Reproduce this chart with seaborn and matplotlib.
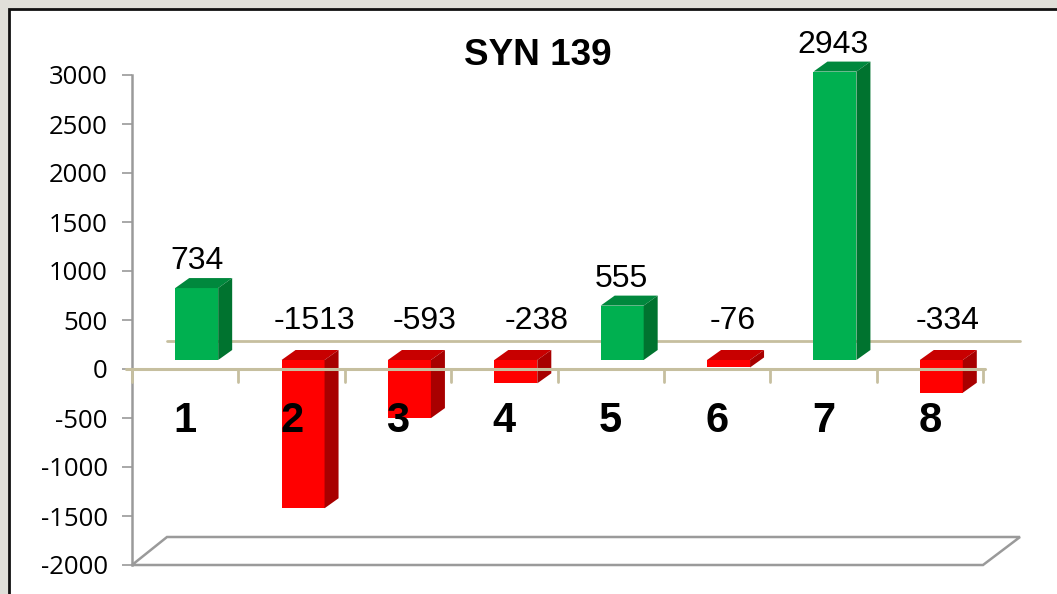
import matplotlib
matplotlib.use('Agg')
import matplotlib.pyplot as plt
import pandas as pd
import seaborn as sns
from matplotlib.patches import Polygon, Rectangle
from matplotlib.transforms import Affine2D

categories = ['1', '2', '3', '4', '5', '6', '7', '8']
values = [734, -1513, -593, -238, 555, -76, 2943, -334]
y_ticks = [3000, 2500, 2000, 1500, 1000, 500, 0, -500, -1000, -1500, -2000]
title = 'SYN 139'

W, H = 1057, 594
GREEN = ('#00B050', '#00883D', '#00732F')
RED = ('#FF0000', '#C80000', '#A80000')
TAN = '#C6BF9F'
GREY = '#9A9A9A'

sns.set_theme(style='white')
plt.rcParams['font.family'] = ['Liberation Sans', 'DejaVu Sans']

df = pd.DataFrame({'cat': categories, 'val': values})
df['sign'] = ['pos' if v >= 0 else 'neg' for v in values]

fig = plt.figure(figsize=(W / 100, H / 100), dpi=100, facecolor='#E0DFD9')
# panel blanco con borde negro, se sale por la derecha y por abajo
fig.add_artist(Rectangle((9 / W, -0.05), 1.1, 1.05 - 9 / H, transform=fig.transFigure,
                         facecolor='white', edgecolor='#111111', linewidth=2, zorder=-1))

ax = fig.add_axes([132 / W, 1 - 565 / H, (983 - 132) / W, (565 - 75) / H], zorder=2)
ax.patch.set_alpha(0)
sns.barplot(data=df, x='cat', y='val', hue='sign', palette={'pos': GREEN[0], 'neg': RED[0]},
            order=categories, dodge=False, legend=False, width=0.404, saturation=1, ax=ax, zorder=4,
            linewidth=0)
ax.set_xlim(-0.5, 7.5)
ax.set_ylim(-2000, 3000)
ax.set_xlabel('')
ax.set_ylabel('')

# desplazamientos en pixeles de la perspectiva 3D
bar_dx, bar_dy = 11.5, -9
depth_x, depth_y = 14, 10
wall_x, wall_y = 35, 28

for p in list(ax.patches):
    if p.get_height() == 0 or p.get_width() == 0:
        continue
    p.set_transform(ax.transData + Affine2D().translate(bar_dx, -bar_dy))
    p.set_clip_on(False)
    x0, x1 = p.get_x(), p.get_x() + p.get_width()
    y0, y1 = sorted((p.get_y(), p.get_y() + p.get_height()))
    (ax0, ay0), (ax1, ay1) = ax.transData.transform([(x0, y0), (x1, y1)])
    ax0 += bar_dx; ax1 += bar_dx; ay0 -= bar_dy; ay1 -= bar_dy
    c = GREEN if p.get_y() + p.get_height() > 0 else RED
    top = [(ax0, ay1), (ax1, ay1), (ax1 + depth_x, ay1 + depth_y), (ax0 + depth_x, ay1 + depth_y)]
    side = [(ax1, ay0), (ax1 + depth_x, ay0 + depth_y), (ax1 + depth_x, ay1 + depth_y), (ax1, ay1)]
    fig.add_artist(Polygon(top, transform=None, facecolor=c[1], edgecolor='none', zorder=3))
    fig.add_artist(Polygon(side, transform=None, facecolor=c[2], edgecolor='none', zorder=3))

# ejes
for s in ['top', 'right', 'bottom']:
    ax.spines[s].set_visible(False)
ax.spines['left'].set_color(GREY)
ax.spines['left'].set_linewidth(1.8)
ax.set_yticks(y_ticks)
ax.set_yticklabels([str(t) for t in y_ticks], fontsize=18.5, family='Open Sans', color='black')
ax.tick_params(axis='y', left=True, length=7, width=1.2, color=GREY, pad=10.5)
ax.set_xticks([i - 0.5 for i in range(len(categories) + 1)])
ax.set_xticklabels([])
ax.tick_params(axis='x', bottom=False)

# linea base, marcas del eje x y linea de la pared trasera
x_px = lambda i: ax.transData.transform((i, 0))[0]
y0_px = ax.transData.transform((0, 0))[1]
floor_px = ax.transData.transform((0, -2000))[1]
left, right = x_px(-0.5), x_px(7.5)
fig.add_artist(plt.Line2D([left - 6, right + 2], [y0_px, y0_px], transform=None, color=TAN, lw=2.2, zorder=6))
for i in range(len(categories) + 1):
    fig.add_artist(plt.Line2D([x_px(i - 0.5)] * 2, [y0_px, y0_px - 13], transform=None, color=TAN, lw=2, zorder=6))
fig.add_artist(plt.Line2D([left + wall_x, right + wall_x + 2], [y0_px + wall_y] * 2, transform=None,
                          color=TAN, lw=2, zorder=1))
floor = [(left, floor_px), (right, floor_px), (right + wall_x + 2, floor_px + wall_y), (left + wall_x, floor_px + wall_y)]
fig.add_artist(Polygon(floor, transform=None, facecolor='white', edgecolor=GREY, lw=1.8, zorder=1))

# etiquetas de categoria y de valor
nudges = [12, 23, 27, 32, 11, 16, 10, 18]
for i, (cat, val) in enumerate(zip(categories, values)):
    fig.text(x_px(i) / W, (y0_px - 52) / H, cat, fontsize=30, fontweight='bold', color='black',
             ha='center', va='center', zorder=8)
    y_label = ax.transData.transform((0, max(val, 0)))[1] + 9 + 27 if val > 0 else y0_px + 48
    fig.text((x_px(i) + nudges[i]) / W, y_label / H, str(val), fontsize=23, color='black',
             ha='center', va='center', zorder=8)

fig.text(538 / W, 1 - 55.5 / H, title, fontsize=26.6, fontweight='bold', color='black',
         ha='center', va='center', zorder=8)

fig.savefig('out.png', dpi=100, facecolor=fig.get_facecolor())
